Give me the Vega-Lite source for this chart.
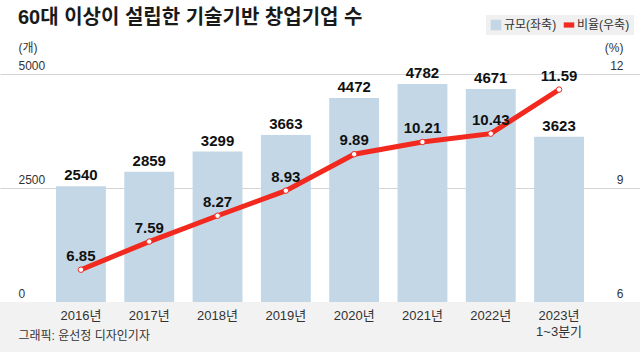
{
  "$schema": "https://vega.github.io/schema/vega-lite/v6.json",
  "width": 640,
  "height": 228,
  "autosize": {"type": "none"},
  "padding": {"top": 74, "left": 0, "right": 0, "bottom": 50},
  "background": "white",
  "config": {
    "font": "Liberation Sans, 'Noto Sans CJK KR', sans-serif",
    "view": {"stroke": null},
    "axis": {"labelFont": "Liberation Sans, 'Noto Sans CJK KR', sans-serif", "titleFont": "Liberation Sans, 'Noto Sans CJK KR', sans-serif"}
  },
  "title": {
    "text": "60대 이상이 설립한 기술기반 창업기업 수",
    "anchor": "start",
    "frame": "group",
    "dx": 18,
    "fontSize": 20,
    "fontWeight": "bold",
    "color": "#1a1a1a",
    "offset": -13
  },
  "data": {
    "values": [
      {"year": "2016년", "count": 2540, "ratio": 6.85},
      {"year": "2017년", "count": 2859, "ratio": 7.59},
      {"year": "2018년", "count": 3299, "ratio": 8.27},
      {"year": "2019년", "count": 3663, "ratio": 8.93},
      {"year": "2020년", "count": 4472, "ratio": 9.89},
      {"year": "2021년", "count": 4782, "ratio": 10.21},
      {"year": "2022년", "count": 4671, "ratio": 10.43},
      {"year": "2023년 1~3분기", "count": 3623, "ratio": 11.59}
    ]
  },
  "layer": [
    {
      "encoding": {
        "y": {
          "field": "count",
          "type": "quantitative",
          "scale": {"domain": [0, 5000], "nice": false, "zero": false},
          "axis": {
            "values": [0, 2500, 5000],
            "format": "d",
            "grid": true,
            "gridColor": "#d4d4d4",
            "domain": false,
            "ticks": false,
            "tickSize": 0,
            "labelAlign": "left",
            "labelBaseline": "bottom",
            "labelPadding": -18,
            "labelOffset": -2,
            "labelFontSize": 12,
            "labelColor": "#333333",
            "title": "(개)",
            "titleAngle": 0,
            "titleAlign": "left",
            "titleBaseline": "bottom",
            "titleX": 18,
            "titleY": -20,
            "titleFontSize": 12,
            "titleFontWeight": "normal",
            "titleColor": "#333333"
          }
        }
      },
      "layer": [
        {
          "mark": {"type": "rect", "color": "#f2f2f2"},
          "encoding": {"y": {"datum": 0}, "y2": {"datum": -1300}}
        },
        {
          "mark": {"type": "bar"},
          "encoding": {
            "x": {
              "field": "year",
              "type": "nominal",
              "sort": null,
              "scale": {"paddingInner": 0.27, "paddingOuter": 0.82},
              "axis": {
                "labelExpr": "split(datum.label, ' ')",
                "labelAngle": 0,
                "domain": false,
                "ticks": false,
                "labelPadding": 7,
                "labelFontSize": 13,
                "labelColor": "#333333",
                "labelLineHeight": 16,
                "zindex": 1,
                "title": "그래픽: 윤선정 디자인기자",
                "titleX": 18,
                "titleY": 33,
                "titleAlign": "left",
                "titleAnchor": "start",
                "titleBaseline": "middle",
                "titleFontSize": 12,
                "titleFontWeight": "normal",
                "titleColor": "#333333"
              }
            },
            "color": {
              "datum": "규모(좌축)",
              "type": "nominal",
              "scale": {"domain": ["규모(좌축)", "비율(우축)"], "range": ["#c3d7e6", "#f2291e"]},
              "legend": {
                "orient": "none",
                "legendX": 486,
                "legendY": -59,
                "direction": "horizontal",
                "title": null,
                "fillColor": "#f0f0f0",
                "padding": 4,
                "labelFontSize": 12,
                "labelColor": "#333333",
                "symbolType": "square",
                "symbolSize": 110,
                "symbolStrokeWidth": 0,
                "columnPadding": 6,
                "labelOffset": 2,
                "encode": {
                  "symbols": {
                    "update": {
                      "shape": {"signal": "datum.value === '비율(우축)' ? 'M-1,-0.5H1V0.5H-1Z' : 'square'"},
                      "fill": {"signal": "datum.value === '비율(우축)' ? '#f2291e' : '#c3d7e6'"},
                      "strokeWidth": {"value": 0}
                    }
                  }
                }
              }
            }
          }
        },
        {
          "mark": {"type": "text", "baseline": "bottom", "dy": -3, "fontSize": 15, "fontWeight": "bold", "color": "#111111"},
          "encoding": {
            "x": {"field": "year", "type": "nominal", "sort": null},
            "text": {"field": "count", "type": "quantitative", "format": "d"}
          }
        }
      ]
    },
    {
      "encoding": {
        "x": {"field": "year", "type": "nominal", "sort": null},
        "y": {
          "field": "ratio",
          "type": "quantitative",
          "scale": {"domain": [6, 12], "nice": false, "zero": false},
          "axis": {
            "orient": "right",
            "values": [6, 9, 12],
            "grid": false,
            "domain": false,
            "ticks": false,
            "tickSize": 0,
            "labelAlign": "right",
            "labelBaseline": "bottom",
            "labelPadding": -17,
            "labelOffset": -2,
            "labelFontSize": 12,
            "labelColor": "#333333",
            "title": "(%)",
            "titleAngle": 0,
            "titleAlign": "right",
            "titleBaseline": "bottom",
            "titleX": -17,
            "titleY": -20,
            "titleFontSize": 12,
            "titleFontWeight": "normal",
            "titleColor": "#333333"
          }
        }
      },
      "layer": [
        {
          "mark": {"type": "line", "strokeWidth": 5},
          "encoding": {"color": {"datum": "비율(우축)", "type": "nominal"}}
        },
        {
          "mark": {"type": "point", "filled": true, "fill": "white", "stroke": "#f2291e", "strokeWidth": 1, "size": 30, "opacity": 1}
        },
        {
          "mark": {"type": "text", "baseline": "bottom", "dy": -6, "fontSize": 15, "fontWeight": "bold", "color": "#111111"},
          "encoding": {"text": {"field": "ratio", "type": "quantitative", "format": ".2f"}}
        }
      ]
    }
  ],
  "resolve": {"scale": {"y": "independent"}}
}
